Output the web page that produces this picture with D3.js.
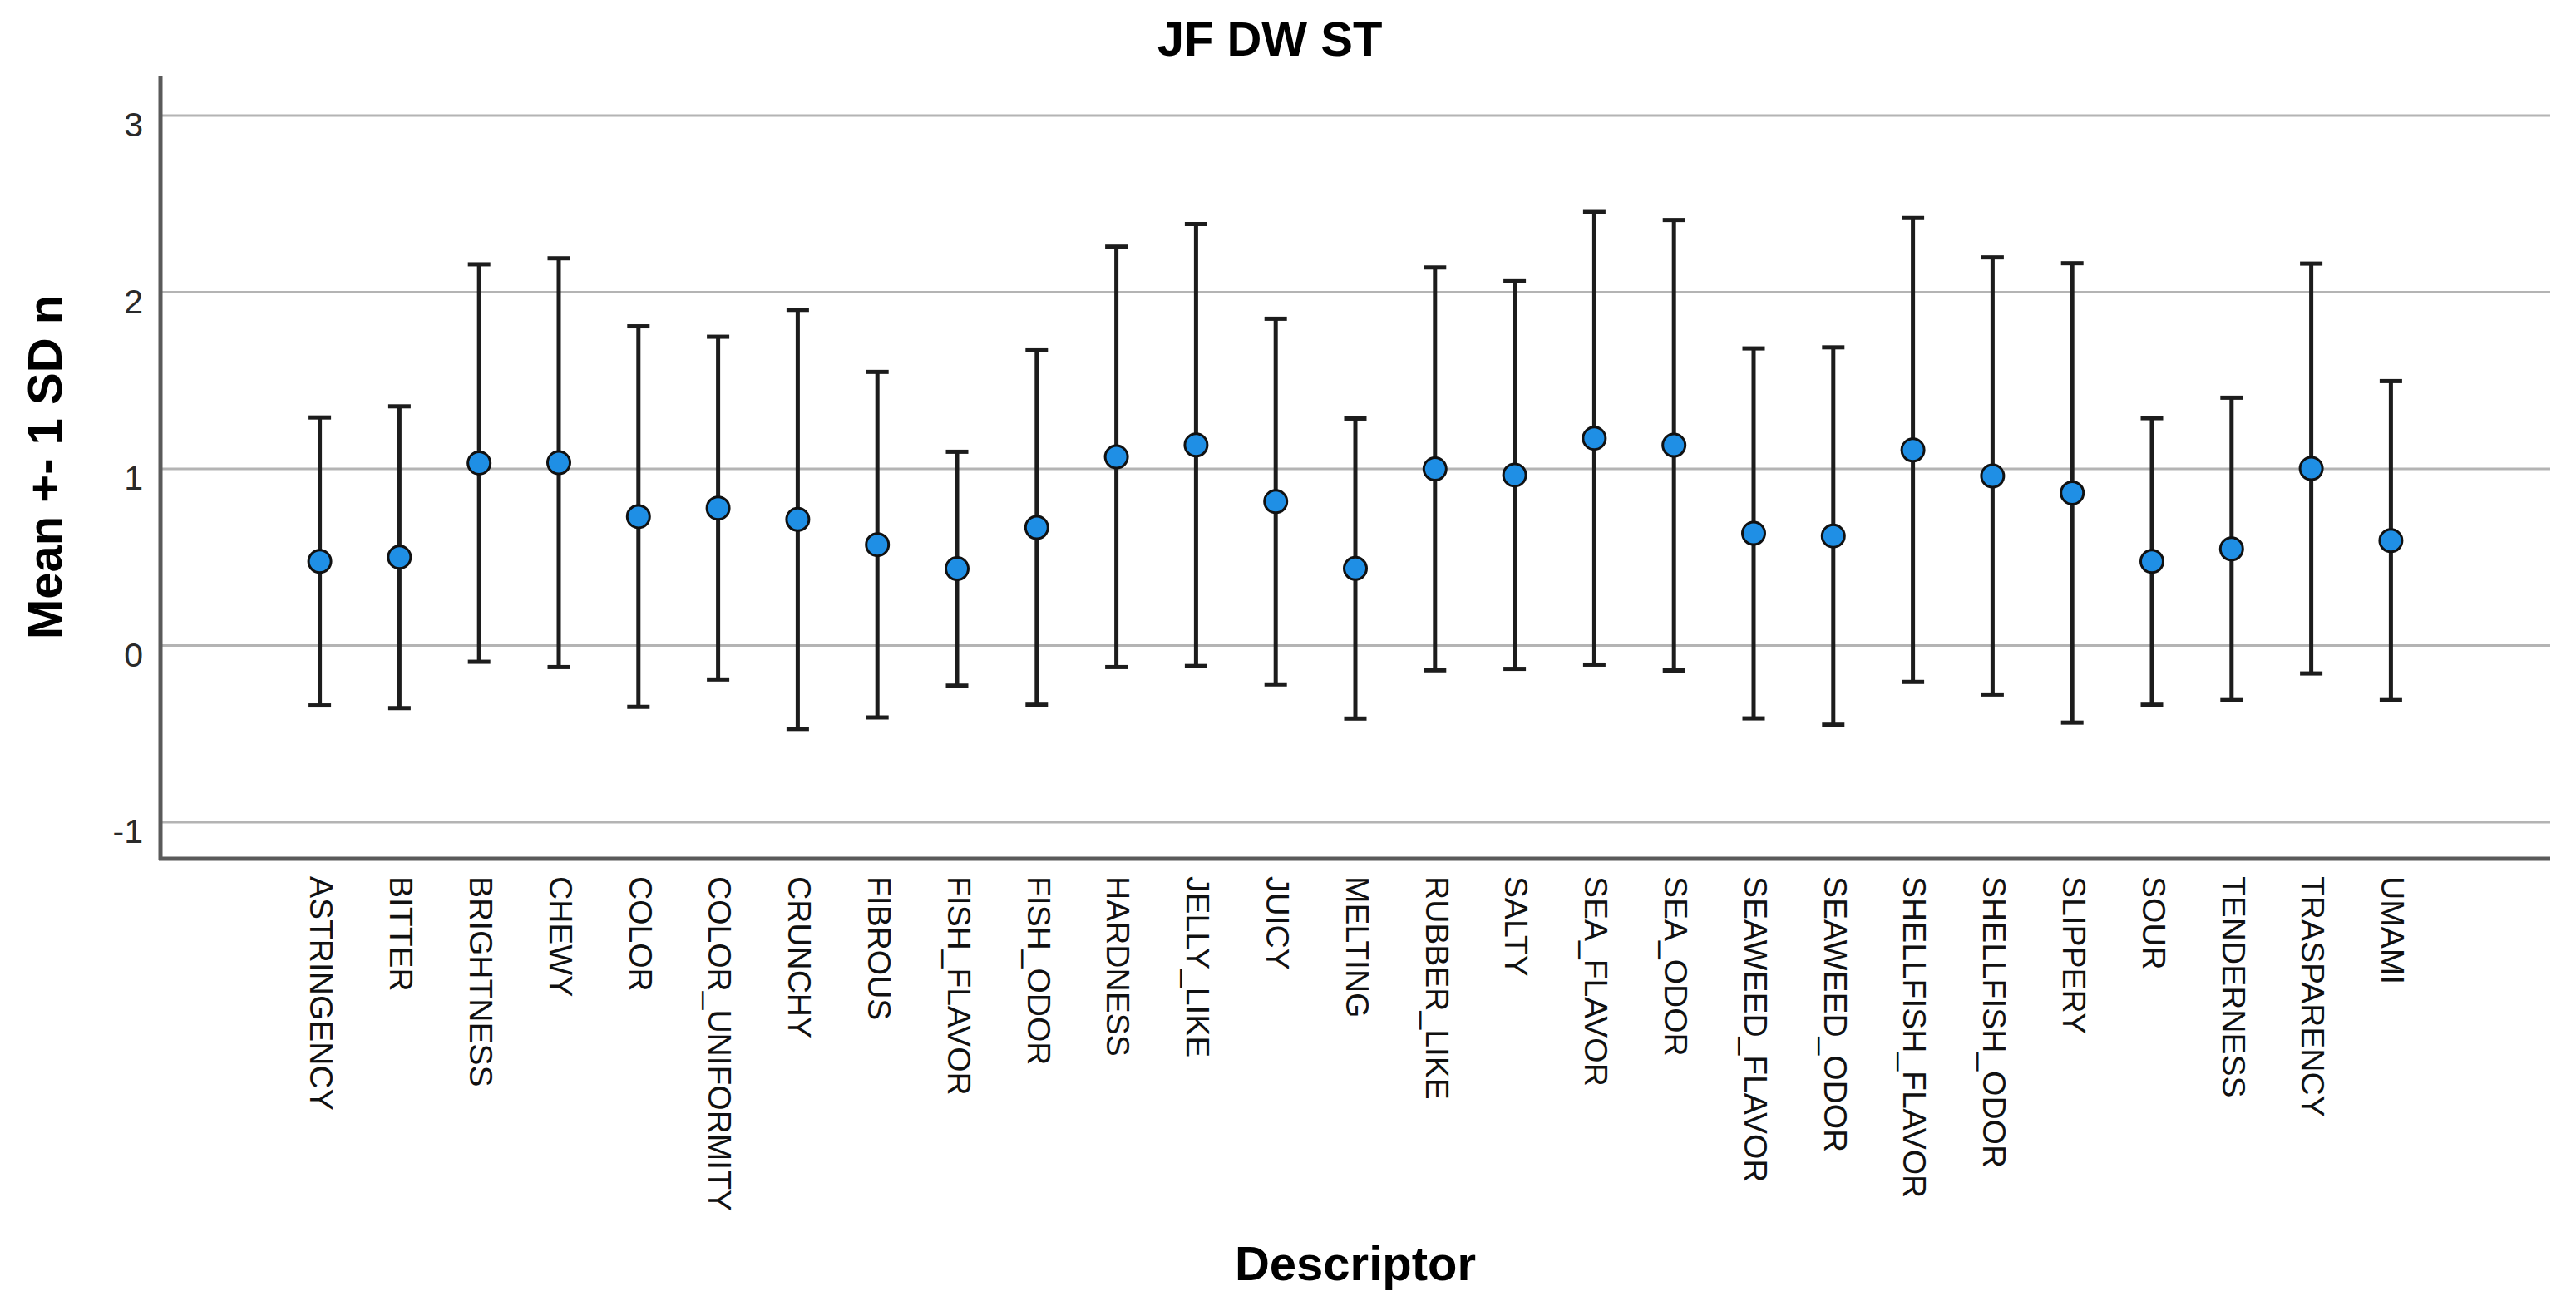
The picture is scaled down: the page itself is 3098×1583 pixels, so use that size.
<!DOCTYPE html>
<html>
<head>
<meta charset="utf-8">
<script src="https://cdn.jsdelivr.net/npm/d3@7"></script>
<style>
  html, body { margin: 0; padding: 0; background: #fff; }
  svg { display: block; font-family: "Liberation Sans", Arial, sans-serif; }
</style>
</head>
<body>
<svg id="chart" width="3098" height="1583"></svg>
<script>
const categories = ["ASTRINGENCY","BITTER","BRIGHTNESS","CHEWY","COLOR","COLOR_UNIFORMITY","CRUNCHY","FIBROUS","FISH_FLAVOR","FISH_ODOR","HARDNESS","JELLY_LIKE","JUICY","MELTING","RUBBER_LIKE","SALTY","SEA_FLAVOR","SEA_ODOR","SEAWEED_FLAVOR","SEAWEED_ODOR","SHELLFISH_FLAVOR","SHELLFISH_ODOR","SLIPPERY","SOUR","TENDERNESS","TRASPARENCY","UMAMI"];
const means = [0.476,0.50,1.033,1.035,0.73,0.778,0.714,0.571,0.435,0.668,1.068,1.135,0.815,0.436,1.00,0.965,1.173,1.134,0.635,0.62,1.107,0.96,0.864,0.476,0.547,1.002,0.594];
const sds = [0.815,0.854,1.125,1.157,1.077,0.970,1.186,0.978,0.662,1.003,1.190,1.251,1.035,0.849,1.140,1.097,1.281,1.275,1.047,1.068,1.313,1.237,1.300,0.811,0.856,1.160,0.903];
const yTicks = [-1,0,1,2,3];
const yTickLabels = ["-1","0","1","2","3"];
const titleText = "JF DW ST";
const xTitle = "Descriptor";
const yTitle = "Mean +- 1 SD n";

(function () {
const data = categories.map((c,i) => ({cat:c, mean:means[i], lo:means[i]-sds[i], hi:means[i]+sds[i]}));

const pL = 193, pR = 3067, pT = 91, pB = 1033;
const svg = d3.select("#chart");

const x = d3.scalePoint().domain(categories).range([pL, pR]).padding(2);
const y = d3.scaleLinear().domain([-1.207, 3.226]).range([pB, pT]);

// gridlines
svg.append("g")
  .selectAll("line").data(yTicks).join("line")
  .attr("x1", pL).attr("x2", pR)
  .attr("y1", d => y(d)).attr("y2", d => y(d))
  .attr("stroke", "#b4b4b4").attr("stroke-width", 3);

// y axis tick labels
const yAxis = svg.append("g").attr("transform", `translate(${pL},0)`)
  .call(d3.axisLeft(y).tickValues(yTicks).tickSize(0).tickPadding(21)
    .tickFormat((d, i) => yTickLabels[i]));
yAxis.select(".domain").remove();
yAxis.selectAll("text")
  .attr("font-size", 41).attr("fill", "#2a2a2a")
  .attr("font-family", "'Liberation Sans', Arial, sans-serif")
  .attr("dy", "0.6em");

// x axis labels
const xAxis = svg.append("g").attr("transform", `translate(0,${pB})`)
  .call(d3.axisBottom(x).tickSize(0).tickPadding(0));
xAxis.select(".domain").remove();
xAxis.selectAll("text")
  .attr("font-size", 39).attr("fill", "#111")
  .attr("font-family", "'Liberation Sans', Arial, sans-serif")
  .attr("text-anchor", "start")
  .attr("transform", "rotate(90)")
  .attr("x", 21).attr("y", 0).attr("dy", "0.3em");

// axis lines
svg.append("line").attr("x1", pL).attr("x2", pL).attr("y1", pT).attr("y2", pB + 2)
  .attr("stroke", "#5a5a5a").attr("stroke-width", 5);
svg.append("line").attr("x1", pL - 2).attr("x2", pR).attr("y1", pB).attr("y2", pB)
  .attr("stroke", "#5a5a5a").attr("stroke-width", 5);

// error bars
const capW = 27;
const g = svg.append("g");
g.selectAll(".bar").data(data).join("line").attr("class","bar")
  .attr("x1", d => x(d.cat)).attr("x2", d => x(d.cat))
  .attr("y1", d => y(d.lo)).attr("y2", d => y(d.hi))
  .attr("stroke", "#1c1c1c").attr("stroke-width", 5);
g.selectAll(".capHi").data(data).join("line").attr("class","capHi")
  .attr("x1", d => x(d.cat) - capW/2).attr("x2", d => x(d.cat) + capW/2)
  .attr("y1", d => y(d.hi)).attr("y2", d => y(d.hi))
  .attr("stroke", "#1c1c1c").attr("stroke-width", 5);
g.selectAll(".capLo").data(data).join("line").attr("class","capLo")
  .attr("x1", d => x(d.cat) - capW/2).attr("x2", d => x(d.cat) + capW/2)
  .attr("y1", d => y(d.lo)).attr("y2", d => y(d.lo))
  .attr("stroke", "#1c1c1c").attr("stroke-width", 5);
g.selectAll("circle").data(data).join("circle")
  .attr("cx", d => x(d.cat)).attr("cy", d => y(d.mean))
  .attr("r", 13.5)
  .attr("fill", "#1f8fe5").attr("stroke", "#111").attr("stroke-width", 3);

// titles
svg.append("text").attr("x", 1527).attr("y", 67).attr("text-anchor", "middle")
  .attr("font-size", 58).attr("font-weight", "bold").attr("fill", "#000").text(titleText);
svg.append("text").attr("x", (pL + pR) / 2).attr("y", 1540).attr("text-anchor", "middle")
  .attr("font-size", 58).attr("font-weight", "bold").attr("fill", "#000").text(xTitle);
svg.append("text").attr("transform", `translate(74,${(pT + pB) / 2}) rotate(-90)`)
  .attr("text-anchor", "middle")
  .attr("font-size", 58).attr("font-weight", "bold").attr("fill", "#000").text(yTitle);
})();
</script>
</body>
</html>
